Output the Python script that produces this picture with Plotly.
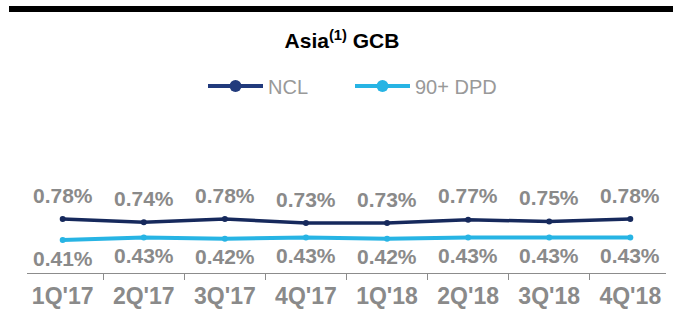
import plotly.graph_objects as go

quarters = ["1Q'17", "2Q'17", "3Q'17", "4Q'17", "1Q'18", "2Q'18", "3Q'18", "4Q'18"]
ncl = [0.78, 0.74, 0.78, 0.73, 0.73, 0.77, 0.75, 0.78]
dpd = [0.41, 0.43, 0.42, 0.43, 0.42, 0.43, 0.43, 0.43]

NCL_COLOR = "#16295c"
DPD_COLOR = "#27b4e4"
GRAY = "#8a8a8a"
FONT = "Liberation Sans, Arial, sans-serif"

fig = go.Figure()
fig.add_trace(go.Scatter(x=quarters, y=ncl, mode="lines+markers", yaxis="y",
                         line=dict(color=NCL_COLOR, width=3.5),
                         marker=dict(size=6, color=NCL_COLOR), showlegend=False))
fig.add_trace(go.Scatter(x=quarters, y=dpd, mode="lines+markers", yaxis="y2",
                         line=dict(color=DPD_COLOR, width=4),
                         marker=dict(size=6, color=DPD_COLOR), showlegend=False))
# legend entries
fig.add_trace(go.Scatter(x=[None], y=[None], mode="lines+markers", name="NCL",
                         line=dict(color="#213a7c", width=4),
                         marker=dict(size=12, color="#213a7c")))
fig.add_trace(go.Scatter(x=[None], y=[None], mode="lines+markers", name="90+ DPD",
                         line=dict(color=DPD_COLOR, width=4),
                         marker=dict(size=12, color=DPD_COLOR)))

annotations = []
for q, v in zip(quarters, ncl):
    annotations.append(dict(x=q, y=v, yref="y", text=f"{v:.2f}%", showarrow=False,
                            yshift=24, font=dict(size=21, color=GRAY, family=FONT, weight="bold")))
for q, v in zip(quarters, dpd):
    annotations.append(dict(x=q, y=v, yref="y2", text=f"{v:.2f}%", showarrow=False,
                            yshift=-18, font=dict(size=21, color=GRAY, family=FONT, weight="bold")))

fig.update_layout(
    width=673, height=309,
    margin=dict(l=27, r=7, t=120, b=36),
    paper_bgcolor="white", plot_bgcolor="white",
    font=dict(family=FONT),
    title=dict(text="<b>Asia<sup>(1)</sup> GCB</b>", x=342/673, xref="container", xanchor="center",
               y=1 - 41/309, yref="container", yanchor="middle",
               font=dict(size=21, color="black", family=FONT)),
    showlegend=True,
    legend=dict(orientation="h", x=(203 - 27) / 639, xanchor="left", y=1 + (120 - 86) / 153,
                yanchor="middle", entrywidth=77, entrywidthmode="pixels",
                font=dict(size=20, color="#999999", family=FONT), itemwidth=55,
                bgcolor="rgba(0,0,0,0)"),
    xaxis=dict(type="category", showline=True, linecolor="#8c8c8c", linewidth=1,
               ticks="outside", ticklen=6, tickcolor="#8c8c8c", tickson="boundaries",
               showgrid=False, zeroline=False, ticklabelstandoff=2, automargin=False,
               tickfont=dict(size=23, color=GRAY, family=FONT, weight="bold")),
    yaxis=dict(range=[0.105, 2.0175], visible=False, showgrid=False),
    yaxis2=dict(range=[0.146, 1.37], visible=False, showgrid=False, overlaying="y"),
    annotations=annotations,
    shapes=[dict(type="rect", xref="paper", yref="paper",
                 x0=(9 - 27) / 639, x1=(673 - 27) / 639,
                 y0=1 + (120 - 12) / 153, y1=1 + (120 - 6) / 153,
                 fillcolor="black", line=dict(width=0))],
)

fig.write_html("out.html", config={"displayModeBar": False},
               post_script="document.body.style.margin='0';")
